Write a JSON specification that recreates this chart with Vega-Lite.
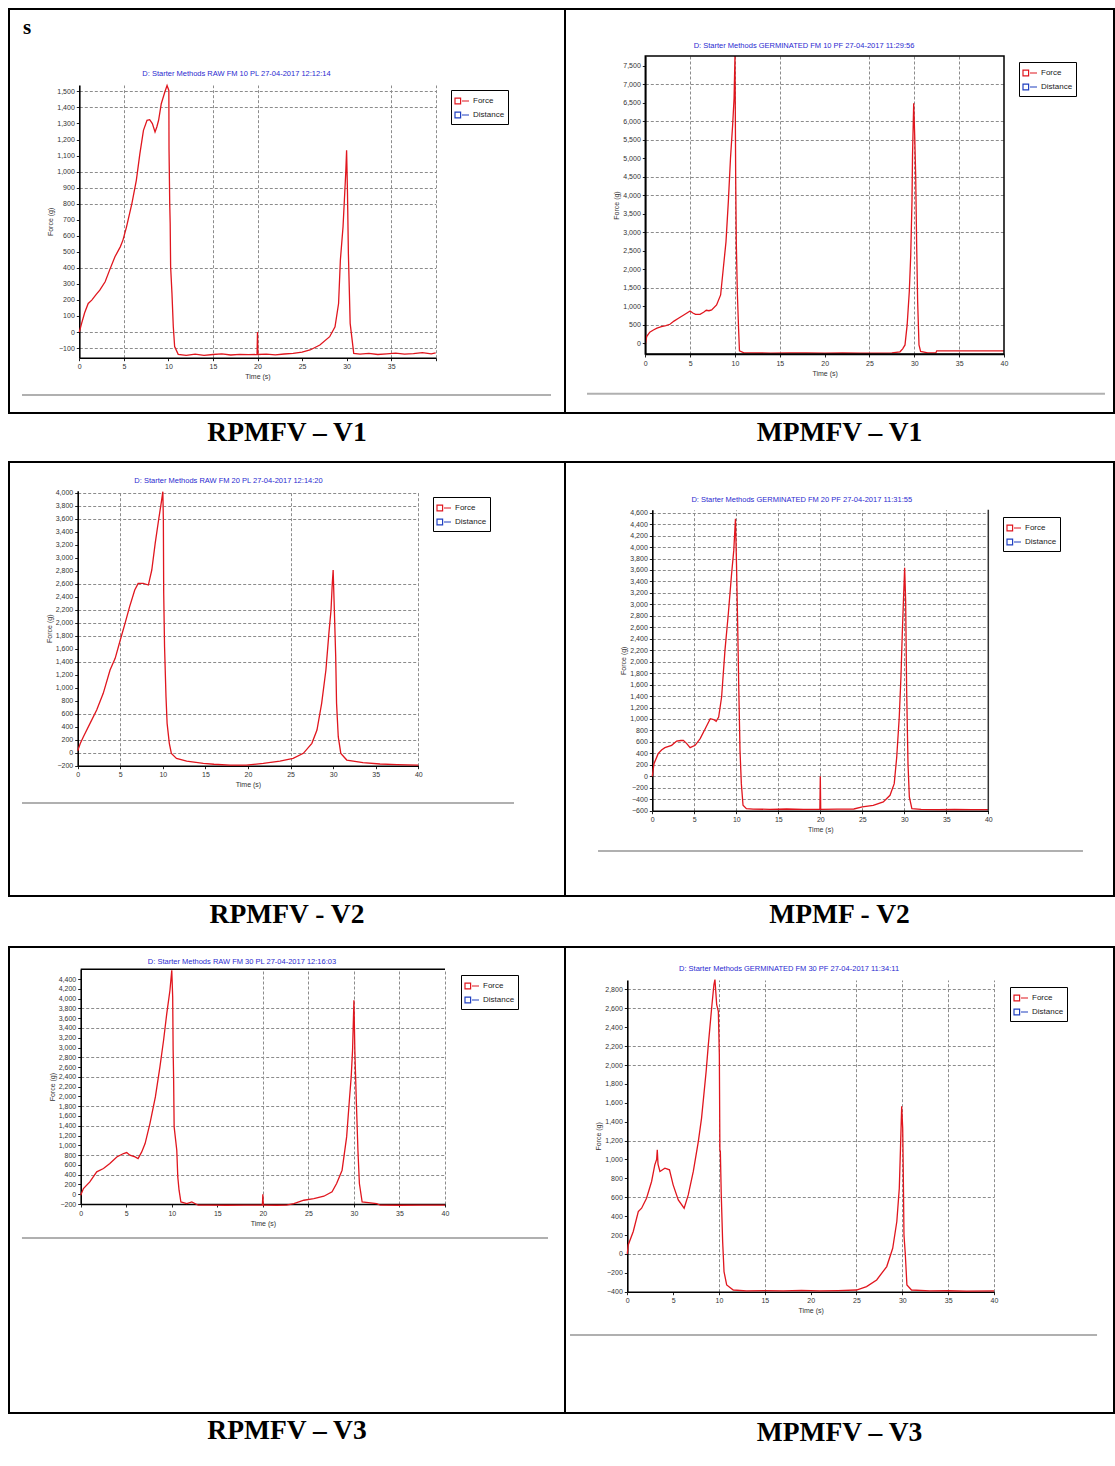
{
"$schema": "https://vega.github.io/schema/vega-lite/v6.json",
"padding": {"left": 8, "top": 8, "right": 0, "bottom": 0},
"columns": 2,
"spacing": 0,
"bounds": "flush",
"align": "each",
"resolve": {"scale": {"x": "independent", "y": "independent", "color": "independent"}, "legend": {"color": "independent"}},
"config": {
 "view": {"stroke": "black", "strokeWidth": 2},
 "axis": {"domainColor": "black", "domainWidth": 1.6, "tickColor": "#222", "tickSize": 3, "labelFontSize": 7, "labelColor": "#333", "labelFont": "Liberation Sans", "labelOverlap": false, "labelFlush": false, "labelPadding": 2, "titleFontSize": 7, "titleFont": "Liberation Sans", "titleFontWeight": "normal", "titleColor": "#333", "titlePadding": 3, "gridColor": "#8c8c8c", "gridDash": [3, 2], "gridWidth": 1},
 "legend": {"symbolType": "M-1,-0.4H-0.2V0.4H-1ZM0,0H1", "symbolSize": 196, "symbolStrokeWidth": 1.2, "labelFontSize": 8, "labelFont": "Liberation Sans", "labelColor": "#222", "strokeColor": "black", "fillColor": "white", "padding": 3, "rowPadding": 0, "labelOffset": 3},
 "text": {"font": "Liberation Sans"}
},
"concat": [
 {"width": 556, "height": 404,
  "resolve": {"axis": {"x": "independent", "y": "independent"}},
  "layer": [
   {"data": {"values": [{"t":0,"F":0},{"t":0.26,"F":54},{"t":0.6,"F":120},{"t":1,"F":178},{"t":1.4,"F":199},{"t":1.9,"F":235},{"t":2.3,"F":261},{"t":2.9,"F":313},{"t":3.4,"F":386},{"t":4,"F":469},{"t":4.6,"F":531},{"t":4.9,"F":573},{"t":5.3,"F":656},{"t":5.9,"F":801},{"t":6.4,"F":946},{"t":6.8,"F":1112},{"t":7.2,"F":1257},{"t":7.6,"F":1320},{"t":7.9,"F":1324},{"t":8.2,"F":1299},{"t":8.5,"F":1247},{"t":8.7,"F":1278},{"t":8.9,"F":1320},{"t":9.2,"F":1423},{"t":9.6,"F":1496},{"t":9.85,"F":1537},{"t":10.05,"F":1506},{"t":10.07,"F":1143},{"t":10.15,"F":800},{"t":10.2,"F":676},{"t":10.25,"F":407},{"t":10.4,"F":241},{"t":10.55,"F":33},{"t":10.7,"F":-91},{"t":11.1,"F":-139},{"t":12,"F":-145},{"t":13,"F":-138},{"t":14,"F":-146},{"t":15,"F":-140},{"t":16,"F":-136},{"t":17,"F":-143},{"t":18,"F":-139},{"t":19,"F":-141},{"t":19.95,"F":-140},{"t":20,"F":0},{"t":20.05,"F":-140},{"t":21,"F":-138},{"t":22,"F":-142},{"t":23,"F":-137},{"t":24,"F":-133},{"t":25,"F":-125},{"t":25.9,"F":-112},{"t":27,"F":-81},{"t":28.1,"F":-29},{"t":28.7,"F":33},{"t":29.1,"F":178},{"t":29.3,"F":448},{"t":29.6,"F":656},{"t":29.75,"F":822},{"t":29.9,"F":988},{"t":30,"F":1133},{"t":30.1,"F":863},{"t":30.2,"F":490},{"t":30.4,"F":54},{"t":30.8,"F":-133},{"t":31.5,"F":-138},{"t":32.5,"F":-133},{"t":33.5,"F":-140},{"t":34.5,"F":-136},{"t":35.5,"F":-131},{"t":36.5,"F":-138},{"t":37.5,"F":-134},{"t":38.5,"F":-128},{"t":39.5,"F":-136},{"t":40,"F":-130}]},
    "mark": {"type": "line", "strokeWidth": 1.3},
    "encoding": {
     "x": {"field": "t", "type": "quantitative", "scale": {"domain": [0, 40], "range": [70.3, 426.7], "nice": false, "zero": false}, "axis": {"orient": "bottom", "offset": -55.3, "values": [0,5,10,15,20,25,30,35,40], "labelExpr": "datum.value == 40 ? '' : datum.label", "grid": false, "title": "Time (s)"}},
     "y": {"field": "F", "type": "quantitative", "scale": {"domain": [-160, 1540], "range": [348.7, 76], "nice": false, "zero": false}, "axis": {"orient": "left", "offset": -70.3, "values": [-100,0,100,200,300,400,500,600,700,800,900,1000,1100,1200,1300,1400,1500], "format": ",.0f", "grid": true, "gridOpacity": {"condition": {"test": "indexof([1500,1400,1000,900,800,400,0,-100], datum.value) >= 0", "value": 1}, "value": 0}, "title": "Force (g)"}},
     "color": {"datum": "Force", "type": "nominal", "scale": {"domain": ["Force", "Distance"], "range": ["#e0161e", "#2040c0"]}, "legend": {"title": null, "orient": "none", "legendX": 442, "legendY": 81}}
    }},
   {"data": {"values": [{"title": "D: Starter Methods RAW FM 10 PL 27-04-2017 12:12:14"}]},
    "mark": {"type": "text", "fontSize": 7.5, "color": "#2a2ad0"},
    "encoding": {
     "x": {"datum": 17.64, "type": "quantitative", "scale": {"domain": [0, 40], "range": [70.3, 426.7], "nice": false, "zero": false}, "axis": {"orient": "top", "domain": false, "ticks": false, "labels": false, "title": null, "grid": true, "values": [5, 15, 20, 35, 40]}},
     "y": {"datum": 1608.6, "type": "quantitative", "scale": {"domain": [-160, 1540], "range": [348.7, 76], "nice": false, "zero": false}, "axis": null},
     "text": {"field": "title"}
    }},
   {"data": {"values": [{"label": "s"}]},
    "mark": {"type": "text", "fontSize": 21, "font": "Liberation Serif", "fontWeight": "bold", "color": "black"},
    "encoding": {
     "x": {"datum": -5.87, "type": "quantitative", "scale": {"domain": [0, 40], "range": [70.3, 426.7], "nice": false, "zero": false}, "axis": null},
     "y": {"datum": 1895, "type": "quantitative", "scale": {"domain": [-160, 1540], "range": [348.7, 76], "nice": false, "zero": false}, "axis": null},
     "text": {"field": "label"}
    }},
   {"data": {"values": [{}]},
    "mark": {"type": "rule", "color": "#b0b0b0", "strokeWidth": 2},
    "encoding": {
     "x": {"datum": -6.43, "type": "quantitative", "scale": {"domain": [0, 40], "range": [70.3, 426.7], "nice": false, "zero": false}, "axis": null},
     "x2": {"datum": 52.94},
     "y": {"datum": -392.5, "type": "quantitative", "scale": {"domain": [-160, 1540], "range": [348.7, 76], "nice": false, "zero": false}, "axis": null}
    }}
  ]},
 {"width": 549, "height": 404,
  "resolve": {"axis": {"x": "independent", "y": "independent"}},
  "layer": [
   {"data": {"values": [{"t":0,"F":-40},{"t":0.15,"F":180},{"t":0.5,"F":300},{"t":0.9,"F":360},{"t":1.3,"F":410},{"t":1.8,"F":450},{"t":2.3,"F":480},{"t":2.75,"F":514},{"t":3.2,"F":600},{"t":3.7,"F":676},{"t":4.2,"F":750},{"t":4.6,"F":811},{"t":5,"F":875},{"t":5.3,"F":820},{"t":5.6,"F":784},{"t":6.1,"F":784},{"t":6.5,"F":840},{"t":6.8,"F":893},{"t":7.1,"F":880},{"t":7.4,"F":902},{"t":7.95,"F":1037},{"t":8.4,"F":1307},{"t":8.7,"F":2029},{"t":9,"F":2750},{"t":9.26,"F":3832},{"t":9.5,"F":5005},{"t":9.74,"F":5906},{"t":9.9,"F":6628},{"t":10,"F":7770},{"t":10.04,"F":6177},{"t":10.08,"F":4463},{"t":10.15,"F":2700},{"t":10.26,"F":1398},{"t":10.4,"F":406},{"t":10.5,"F":-207},{"t":11,"F":-262},{"t":12,"F":-258},{"t":14,"F":-266},{"t":16,"F":-262},{"t":18,"F":-260},{"t":20,"F":-266},{"t":22,"F":-263},{"t":24,"F":-267},{"t":26,"F":-265},{"t":27.5,"F":-262},{"t":28.4,"F":-230},{"t":28.7,"F":-150},{"t":28.96,"F":-45},{"t":29.2,"F":496},{"t":29.44,"F":1398},{"t":29.6,"F":2390},{"t":29.74,"F":3832},{"t":29.8,"F":5095},{"t":29.93,"F":6492},{"t":30.04,"F":5636},{"t":30.15,"F":4554},{"t":30.26,"F":2660},{"t":30.37,"F":1127},{"t":30.52,"F":-45},{"t":30.7,"F":-220},{"t":31.5,"F":-262},{"t":32.4,"F":-262},{"t":32.5,"F":-205},{"t":35,"F":-205},{"t":37,"F":-207},{"t":40,"F":-205}]},
    "mark": {"type": "line", "strokeWidth": 1.3},
    "encoding": {
     "x": {"field": "t", "type": "quantitative", "scale": {"domain": [0, 40], "range": [80.3, 439], "nice": false, "zero": false}, "axis": {"orient": "bottom", "offset": -59, "values": [0,5,10,15,20,25,30,35,40], "grid": false, "title": "Time (s)"}},
     "y": {"field": "F", "type": "quantitative", "scale": {"domain": [-290, 7770], "range": [345, 47], "nice": false, "zero": false}, "axis": {"orient": "left", "offset": -80.3, "values": [0,500,1000,1500,2000,2500,3000,3500,4000,4500,5000,5500,6000,6500,7000,7500], "format": ",.0f", "grid": true, "gridOpacity": {"condition": {"test": "indexof([7000,6000,5500,4500,4000,3000,1500,500], datum.value) >= 0", "value": 1}, "value": 0}, "title": "Force (g)"}},
     "color": {"datum": "Force", "type": "nominal", "scale": {"domain": ["Force", "Distance"], "range": ["#e0161e", "#2040c0"]}, "legend": {"title": null, "orient": "none", "legendX": 454, "legendY": 53}}
    }},
   {"data": {"values": [{"title": "D: Starter Methods GERMINATED FM 10 PF 27-04-2017 11:29:56"}]},
    "mark": {"type": "text", "fontSize": 7.5, "color": "#2a2ad0"},
    "encoding": {
     "x": {"datum": 17.7, "type": "quantitative", "scale": {"domain": [0, 40], "range": [80.3, 439], "nice": false, "zero": false}, "axis": {"orient": "top", "domain": false, "ticks": false, "labels": false, "title": null, "grid": true, "values": [5, 10, 15, 25, 30, 35]}},
     "y": {"datum": 8040, "type": "quantitative", "scale": {"domain": [-290, 7770], "range": [345, 47], "nice": false, "zero": false}, "axis": null},
     "text": {"field": "title"}
    }},
   {"data": {"values": [{}]},
    "mark": {"type": "rect", "filled": false, "color": "black", "strokeWidth": 1.5},
    "encoding": {
     "x": {"datum": 0, "type": "quantitative", "scale": {"domain": [0, 40], "range": [80.3, 439], "nice": false, "zero": false}, "axis": null},
     "x2": {"datum": 40},
     "y": {"datum": -290, "type": "quantitative", "scale": {"domain": [-290, 7770], "range": [345, 47], "nice": false, "zero": false}, "axis": null},
     "y2": {"datum": 7770}
    }},
   {"data": {"values": [{}]},
    "mark": {"type": "rule", "color": "#b0b0b0", "strokeWidth": 2},
    "encoding": {
     "x": {"datum": -6.5, "type": "quantitative", "scale": {"domain": [0, 40], "range": [80.3, 439], "nice": false, "zero": false}, "axis": null},
     "x2": {"datum": 51.26},
     "y": {"datum": -1364, "type": "quantitative", "scale": {"domain": [-290, 7770], "range": [345, 47], "nice": false, "zero": false}, "axis": null}
    }}
  ]},
 {"width": 556, "height": 49, "data": {"values": [{"c": "RPMFV – V1"}]}, "mark": {"type": "text", "font": "Liberation Serif", "fontWeight": "bold", "fontSize": 27.5, "dy": -5, "color": "black"}, "encoding": {"text": {"field": "c"}}},
 {"width": 549, "height": 49, "data": {"values": [{"c": "MPMFV – V1"}]}, "mark": {"type": "text", "font": "Liberation Serif", "fontWeight": "bold", "fontSize": 27.5, "dy": -5, "color": "black"}, "encoding": {"text": {"field": "c"}}},
 {"width": 556, "height": 434,
  "resolve": {"axis": {"x": "independent", "y": "independent"}},
  "layer": [
   {"data": {"values": [{"t":0,"F":30},{"t":0.3,"F":140},{"t":0.67,"F":246},{"t":1.45,"F":451},{"t":2.23,"F":656},{"t":3,"F":913},{"t":3.8,"F":1272},{"t":4.4,"F":1451},{"t":5,"F":1733},{"t":5.56,"F":1990},{"t":6.1,"F":2246},{"t":6.7,"F":2503},{"t":7.1,"F":2605},{"t":7.7,"F":2605},{"t":8.3,"F":2579},{"t":8.7,"F":2810},{"t":9.1,"F":3220},{"t":9.5,"F":3579},{"t":9.8,"F":3836},{"t":10,"F":4015},{"t":10.06,"F":3579},{"t":10.1,"F":2451},{"t":10.2,"F":1631},{"t":10.37,"F":862},{"t":10.5,"F":451},{"t":10.76,"F":144},{"t":11,"F":-10},{"t":11.6,"F":-87},{"t":12.8,"F":-128},{"t":14.75,"F":-164},{"t":16,"F":-178},{"t":17.9,"F":-190},{"t":19.8,"F":-190},{"t":21.8,"F":-164},{"t":23.75,"F":-128},{"t":25.3,"F":-87},{"t":26.5,"F":-10},{"t":27.5,"F":144},{"t":28.1,"F":349},{"t":28.65,"F":759},{"t":29.15,"F":1272},{"t":29.5,"F":1836},{"t":29.75,"F":2195},{"t":29.9,"F":2605},{"t":30,"F":2810},{"t":30.14,"F":2195},{"t":30.3,"F":1477},{"t":30.4,"F":759},{"t":30.6,"F":246},{"t":30.9,"F":-10},{"t":31.6,"F":-113},{"t":33.5,"F":-154},{"t":35.5,"F":-174},{"t":37.5,"F":-184},{"t":40,"F":-190}]},
    "mark": {"type": "line", "strokeWidth": 1.3},
    "encoding": {
     "x": {"field": "t", "type": "quantitative", "scale": {"domain": [0, 40], "range": [68.7, 409.3], "nice": false, "zero": false}, "axis": {"orient": "bottom", "offset": -130.3, "values": [0,5,10,15,20,25,30,35,40], "grid": false, "title": "Time (s)"}},
     "y": {"field": "F", "type": "quantitative", "scale": {"domain": [-200, 4030], "range": [303.7, 28.7], "nice": false, "zero": false}, "axis": {"orient": "left", "offset": -68.7, "values": [-200,0,200,400,600,800,1000,1200,1400,1600,1800,2000,2200,2400,2600,2800,3000,3200,3400,3600,3800,4000], "format": ",.0f", "grid": true, "gridOpacity": {"condition": {"test": "indexof([4000,3800,3600,2600,2200,2000,1800,1400,600,200,0,-200], datum.value) >= 0", "value": 1}, "value": 0}, "title": "Force (g)"}},
     "color": {"datum": "Force", "type": "nominal", "scale": {"domain": ["Force", "Distance"], "range": ["#e0161e", "#2040c0"]}, "legend": {"title": null, "orient": "none", "legendX": 424, "legendY": 35}}
    }},
   {"data": {"values": [{"title": "D: Starter Methods RAW FM 20 PL 27-04-2017 12:14:20"}]},
    "mark": {"type": "text", "fontSize": 7.5, "color": "#2a2ad0"},
    "encoding": {
     "x": {"datum": 17.71, "type": "quantitative", "scale": {"domain": [0, 40], "range": [68.7, 409.3], "nice": false, "zero": false}, "axis": {"orient": "top", "domain": false, "ticks": false, "labels": false, "title": null, "grid": true, "values": [5, 25, 40]}},
     "y": {"datum": 4179, "type": "quantitative", "scale": {"domain": [-200, 4030], "range": [303.7, 28.7], "nice": false, "zero": false}, "axis": null},
     "text": {"field": "title"}
    }},
   {"data": {"values": [{}]},
    "mark": {"type": "rule", "color": "#b0b0b0", "strokeWidth": 2},
    "encoding": {
     "x": {"datum": -6.54, "type": "quantitative", "scale": {"domain": [0, 40], "range": [68.7, 409.3], "nice": false, "zero": false}, "axis": null},
     "x2": {"datum": 51.24},
     "y": {"datum": -774, "type": "quantitative", "scale": {"domain": [-200, 4030], "range": [303.7, 28.7], "nice": false, "zero": false}, "axis": null}
    }}
  ]},
 {"width": 549, "height": 434,
  "resolve": {"axis": {"x": "independent", "y": "independent"}},
  "layer": [
   {"data": {"values": [{"t":0,"F":0},{"t":0.2,"F":221},{"t":0.7,"F":395},{"t":1.1,"F":460},{"t":1.5,"F":500},{"t":2.3,"F":541},{"t":2.9,"F":616},{"t":3.4,"F":625},{"t":3.7,"F":628},{"t":4.1,"F":570},{"t":4.5,"F":500},{"t":5.1,"F":541},{"t":5.7,"F":657},{"t":6.3,"F":831},{"t":6.9,"F":1006},{"t":7.3,"F":990},{"t":7.6,"F":960},{"t":7.9,"F":1035},{"t":8.25,"F":1384},{"t":8.65,"F":2198},{"t":9.05,"F":2837},{"t":9.44,"F":3535},{"t":9.7,"F":3942},{"t":9.9,"F":4494},{"t":10.04,"F":3593},{"t":10.16,"F":2663},{"t":10.3,"F":1500},{"t":10.44,"F":453},{"t":10.6,"F":-128},{"t":10.8,"F":-506},{"t":11.2,"F":-564},{"t":12,"F":-572},{"t":14,"F":-576},{"t":16,"F":-570},{"t":18,"F":-578},{"t":19.95,"F":-576},{"t":20,"F":0},{"t":20.05,"F":-578},{"t":22,"F":-574},{"t":24,"F":-570},{"t":25,"F":-535},{"t":26.3,"F":-506},{"t":27.5,"F":-448},{"t":28.3,"F":-331},{"t":28.8,"F":-128},{"t":29.1,"F":337},{"t":29.4,"F":1035},{"t":29.6,"F":1733},{"t":29.76,"F":2488},{"t":29.9,"F":3070},{"t":30.04,"F":3640},{"t":30.16,"F":3070},{"t":30.28,"F":1500},{"t":30.44,"F":221},{"t":30.6,"F":-360},{"t":30.9,"F":-564},{"t":32,"F":-576},{"t":34,"F":-580},{"t":36,"F":-576},{"t":38,"F":-580},{"t":40,"F":-581}]},
    "mark": {"type": "line", "strokeWidth": 1.3},
    "encoding": {
     "x": {"field": "t", "type": "quantitative", "scale": {"domain": [0, 40], "range": [87.3, 423.3], "nice": false, "zero": false}, "axis": {"orient": "bottom", "offset": -85.3, "values": [0,5,10,15,20,25,30,35,40], "grid": false, "title": "Time (s)"}},
     "y": {"field": "F", "type": "quantitative", "scale": {"domain": [-600, 4650], "range": [348.7, 47.8], "nice": false, "zero": false}, "axis": {"orient": "left", "offset": -87.3, "values": [-600,-400,-200,0,200,400,600,800,1000,1200,1400,1600,1800,2000,2200,2400,2600,2800,3000,3200,3400,3600,3800,4000,4200,4400,4600], "format": ",.0f", "grid": true, "title": "Force (g)"}},
     "color": {"datum": "Force", "type": "nominal", "scale": {"domain": ["Force", "Distance"], "range": ["#e0161e", "#2040c0"]}, "legend": {"title": null, "orient": "none", "legendX": 438, "legendY": 55}}
    }},
   {"data": {"values": [{"title": "D: Starter Methods GERMINATED FM 20 PF 27-04-2017 11:31:55"}]},
    "mark": {"type": "text", "fontSize": 7.5, "color": "#2a2ad0"},
    "encoding": {
     "x": {"datum": 17.79, "type": "quantitative", "scale": {"domain": [0, 40], "range": [87.3, 423.3], "nice": false, "zero": false}, "axis": {"orient": "top", "domain": false, "ticks": false, "labels": false, "title": null, "grid": true, "values": [5, 10, 15, 20, 25, 30, 35]}},
     "y": {"datum": 4821, "type": "quantitative", "scale": {"domain": [-600, 4650], "range": [348.7, 47.8], "nice": false, "zero": false}, "axis": null},
     "text": {"field": "title"}
    }},
   {"data": {"values": [{}]},
    "mark": {"type": "rule", "color": "#333", "strokeWidth": 1.5},
    "encoding": {
     "x": {"datum": 40, "type": "quantitative", "scale": {"domain": [0, 40], "range": [87.3, 423.3], "nice": false, "zero": false}, "axis": null},
     "y": {"datum": -600, "type": "quantitative", "scale": {"domain": [-600, 4650], "range": [348.7, 47.8], "nice": false, "zero": false}, "axis": null},
     "y2": {"datum": 4650}
    }},
   {"data": {"values": [{}]},
    "mark": {"type": "rule", "color": "#b0b0b0", "strokeWidth": 2},
    "encoding": {
     "x": {"datum": -6.46, "type": "quantitative", "scale": {"domain": [0, 40], "range": [87.3, 423.3], "nice": false, "zero": false}, "axis": null},
     "x2": {"datum": 51.27},
     "y": {"datum": -1303, "type": "quantitative", "scale": {"domain": [-600, 4650], "range": [348.7, 47.8], "nice": false, "zero": false}, "axis": null}
    }}
  ]},
 {"width": 556, "height": 51, "data": {"values": [{"c": "RPMFV - V2"}]}, "mark": {"type": "text", "font": "Liberation Serif", "fontWeight": "bold", "fontSize": 27.5, "dy": -7, "color": "black"}, "encoding": {"text": {"field": "c"}}},
 {"width": 549, "height": 51, "data": {"values": [{"c": "MPMF - V2"}]}, "mark": {"type": "text", "font": "Liberation Serif", "fontWeight": "bold", "fontSize": 27.5, "dy": -7, "color": "black"}, "encoding": {"text": {"field": "c"}}},
 {"width": 556, "height": 466,
  "resolve": {"axis": {"x": "independent", "y": "independent"}},
  "layer": [
   {"data": {"values": [{"t":0,"F":-20},{"t":0.3,"F":116},{"t":1,"F":252},{"t":1.76,"F":457},{"t":2.5,"F":525},{"t":3.2,"F":627},{"t":3.96,"F":763},{"t":4.7,"F":832},{"t":5.05,"F":852},{"t":5.4,"F":798},{"t":5.97,"F":763},{"t":6.3,"F":729},{"t":6.7,"F":866},{"t":7.07,"F":1036},{"t":7.6,"F":1445},{"t":8.2,"F":1990},{"t":8.7,"F":2604},{"t":9.1,"F":3149},{"t":9.45,"F":3695},{"t":9.8,"F":4172},{"t":10,"F":4581},{"t":10.1,"F":4035},{"t":10.15,"F":2945},{"t":10.2,"F":2400},{"t":10.26,"F":1377},{"t":10.55,"F":900},{"t":10.66,"F":354},{"t":10.8,"F":82},{"t":11,"F":-157},{"t":11.65,"F":-191},{"t":12.2,"F":-157},{"t":12.9,"F":-225},{"t":14,"F":-222},{"t":16,"F":-226},{"t":18,"F":-224},{"t":19.95,"F":-225},{"t":20,"F":0},{"t":20.05,"F":-225},{"t":21.5,"F":-226},{"t":22.6,"F":-225},{"t":23.4,"F":-191},{"t":24.5,"F":-123},{"t":25.6,"F":-89},{"t":26.7,"F":-41},{"t":27.6,"F":48},{"t":28.1,"F":218},{"t":28.7,"F":491},{"t":29.2,"F":1172},{"t":29.5,"F":1922},{"t":29.7,"F":2399},{"t":29.85,"F":2945},{"t":30,"F":3967},{"t":30.1,"F":2945},{"t":30.26,"F":1922},{"t":30.44,"F":900},{"t":30.6,"F":218},{"t":30.9,"F":-157},{"t":32.5,"F":-191},{"t":32.9,"F":-225},{"t":35,"F":-226},{"t":37.5,"F":-224},{"t":40,"F":-225}]},
    "mark": {"type": "line", "strokeWidth": 1.3},
    "encoding": {
     "x": {"field": "t", "type": "quantitative", "scale": {"domain": [0, 40], "range": [71.7, 436], "nice": false, "zero": false}, "axis": {"orient": "bottom", "offset": -209, "values": [0,5,10,15,20,25,30,35,40], "grid": false, "title": "Time (s)"}},
     "y": {"field": "F", "type": "quantitative", "scale": {"domain": [-200, 4600], "range": [257, 22.3], "nice": false, "zero": false}, "axis": {"orient": "left", "offset": -71.7, "values": [-200,0,200,400,600,800,1000,1200,1400,1600,1800,2000,2200,2400,2600,2800,3000,3200,3400,3600,3800,4000,4200,4400], "format": ",.0f", "grid": true, "gridOpacity": {"condition": {"test": "indexof([3800,3400,2800,2400,1800,1400,800,400,-200], datum.value) >= 0", "value": 1}, "value": 0}, "title": "Force (g)"}},
     "color": {"datum": "Force", "type": "nominal", "scale": {"domain": ["Force", "Distance"], "range": ["#e0161e", "#2040c0"]}, "legend": {"title": null, "orient": "none", "legendX": 452, "legendY": 28}}
    }},
   {"data": {"values": [{"title": "D: Starter Methods RAW FM 30 PL 27-04-2017 12:16:03"}]},
    "mark": {"type": "text", "fontSize": 7.5, "color": "#2a2ad0"},
    "encoding": {
     "x": {"datum": 17.71, "type": "quantitative", "scale": {"domain": [0, 40], "range": [71.7, 436], "nice": false, "zero": false}, "axis": {"orient": "top", "domain": false, "ticks": false, "labels": false, "title": null, "grid": true, "values": [20, 25, 30, 35, 40]}},
     "y": {"datum": 4755, "type": "quantitative", "scale": {"domain": [-200, 4600], "range": [257, 22.3], "nice": false, "zero": false}, "axis": null},
     "text": {"field": "title"}
    }},
   {"data": {"values": [{}]},
    "mark": {"type": "rule", "color": "black", "strokeWidth": 1.5},
    "encoding": {
     "x": {"datum": 0, "type": "quantitative", "scale": {"domain": [0, 40], "range": [71.7, 436], "nice": false, "zero": false}, "axis": null},
     "x2": {"datum": 40},
     "y": {"datum": 4600, "type": "quantitative", "scale": {"domain": [-200, 4600], "range": [257, 22.3], "nice": false, "zero": false}, "axis": null}
    }},
   {"data": {"values": [{}]},
    "mark": {"type": "rule", "color": "#b0b0b0", "strokeWidth": 2},
    "encoding": {
     "x": {"datum": -6.45, "type": "quantitative", "scale": {"domain": [0, 40], "range": [71.7, 436], "nice": false, "zero": false}, "axis": null},
     "x2": {"datum": 51.31},
     "y": {"datum": -895, "type": "quantitative", "scale": {"domain": [-200, 4600], "range": [257, 22.3], "nice": false, "zero": false}, "axis": null}
    }}
  ]},
 {"width": 549, "height": 466,
  "resolve": {"axis": {"x": "independent", "y": "independent"}},
  "layer": [
   {"data": {"values": [{"t":0,"F":0},{"t":0.1,"F":95},{"t":0.65,"F":237},{"t":1.2,"F":449},{"t":1.56,"F":484},{"t":2.1,"F":590},{"t":2.65,"F":767},{"t":3,"F":943},{"t":3.2,"F":1000},{"t":3.27,"F":1102},{"t":3.35,"F":950},{"t":3.56,"F":873},{"t":4.1,"F":908},{"t":4.6,"F":890},{"t":5,"F":731},{"t":5.56,"F":572},{"t":6.2,"F":484},{"t":6.65,"F":625},{"t":7.2,"F":873},{"t":7.75,"F":1191},{"t":8.1,"F":1438},{"t":8.6,"F":1933},{"t":8.84,"F":2216},{"t":9.2,"F":2604},{"t":9.45,"F":2852},{"t":9.56,"F":2905},{"t":9.75,"F":2640},{"t":9.93,"F":2569},{"t":10.04,"F":2110},{"t":10.1,"F":1100},{"t":10.15,"F":1085},{"t":10.25,"F":625},{"t":10.4,"F":131},{"t":10.55,"F":-187},{"t":10.84,"F":-329},{"t":11.56,"F":-382},{"t":13,"F":-392},{"t":15,"F":-388},{"t":17,"F":-392},{"t":19,"F":-386},{"t":21,"F":-392},{"t":23,"F":-388},{"t":25,"F":-382},{"t":26.1,"F":-346},{"t":27.2,"F":-276},{"t":28.3,"F":-134},{"t":28.95,"F":60},{"t":29.4,"F":343},{"t":29.67,"F":696},{"t":29.8,"F":1120},{"t":29.93,"F":1562},{"t":30.04,"F":1332},{"t":30.1,"F":900},{"t":30.18,"F":201},{"t":30.33,"F":-11},{"t":30.5,"F":-329},{"t":31,"F":-382},{"t":33,"F":-392},{"t":35,"F":-390},{"t":37,"F":-394},{"t":40,"F":-392}]},
    "mark": {"type": "line", "strokeWidth": 1.3},
    "encoding": {
     "x": {"field": "t", "type": "quantitative", "scale": {"domain": [0, 40], "range": [62.3, 429], "nice": false, "zero": false}, "axis": {"orient": "bottom", "offset": -121.3, "values": [0,5,10,15,20,25,30,35,40], "grid": false, "title": "Time (s)"}},
     "y": {"field": "F", "type": "quantitative", "scale": {"domain": [-400, 2900], "range": [344.7, 33], "nice": false, "zero": false}, "axis": {"orient": "left", "offset": -62.3, "values": [-400,-200,0,200,400,600,800,1000,1200,1400,1600,1800,2000,2200,2400,2600,2800], "format": ",.0f", "grid": true, "gridOpacity": {"condition": {"test": "indexof([2800,2600,2200,2000,1200,600,0,-400], datum.value) >= 0", "value": 1}, "value": 0}, "title": "Force (g)"}},
     "color": {"datum": "Force", "type": "nominal", "scale": {"domain": ["Force", "Distance"], "range": ["#e0161e", "#2040c0"]}, "legend": {"title": null, "orient": "none", "legendX": 445, "legendY": 40}}
    }},
   {"data": {"values": [{"title": "D: Starter Methods GERMINATED FM 30 PF 27-04-2017 11:34:11"}]},
    "mark": {"type": "text", "fontSize": 7.5, "color": "#2a2ad0"},
    "encoding": {
     "x": {"datum": 17.64, "type": "quantitative", "scale": {"domain": [0, 40], "range": [62.3, 429], "nice": false, "zero": false}, "axis": {"orient": "top", "domain": false, "ticks": false, "labels": false, "title": null, "grid": true, "values": [10, 15, 25, 30, 35, 40]}},
     "y": {"datum": 3016, "type": "quantitative", "scale": {"domain": [-400, 2900], "range": [344.7, 33], "nice": false, "zero": false}, "axis": null},
     "text": {"field": "title"}
    }},
   {"data": {"values": [{}]},
    "mark": {"type": "rule", "color": "#b0b0b0", "strokeWidth": 2},
    "encoding": {
     "x": {"datum": -6.25, "type": "quantitative", "scale": {"domain": [0, 40], "range": [62.3, 429], "nice": false, "zero": false}, "axis": null},
     "x2": {"datum": 51.24},
     "y": {"datum": -858, "type": "quantitative", "scale": {"domain": [-400, 2900], "range": [344.7, 33], "nice": false, "zero": false}, "axis": null}
    }}
  ]},
 {"width": 556, "height": 52, "data": {"values": [{"c": "RPMFV – V3"}]}, "mark": {"type": "text", "font": "Liberation Serif", "fontWeight": "bold", "fontSize": 27.5, "dy": -8, "color": "black"}, "encoding": {"text": {"field": "c"}}},
 {"width": 549, "height": 52, "data": {"values": [{"c": "MPMFV – V3"}]}, "mark": {"type": "text", "font": "Liberation Serif", "fontWeight": "bold", "fontSize": 27.5, "dy": -6, "color": "black"}, "encoding": {"text": {"field": "c"}}}
]
}
